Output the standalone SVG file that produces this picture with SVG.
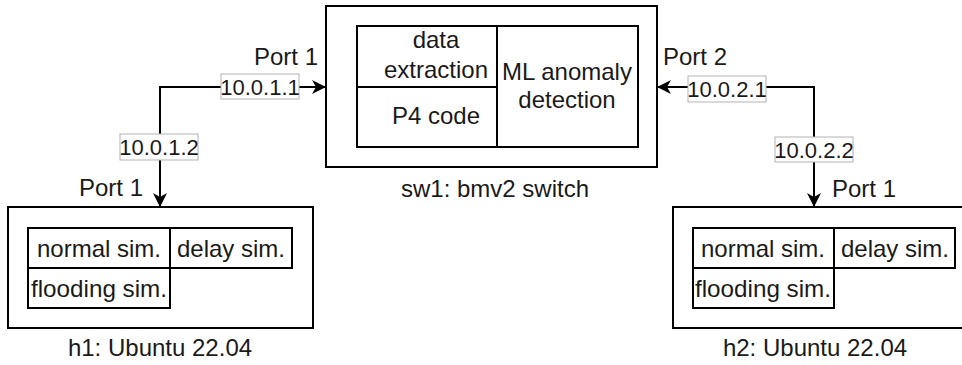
<svg xmlns="http://www.w3.org/2000/svg" width="962" height="365" viewBox="0 0 962 365">
  <style>
    .box { fill: #ffffff; stroke: #000000; stroke-width: 2; }
    .cell { fill: none; stroke: #000000; stroke-width: 2; }
    .t { font-family: "Liberation Sans", Arial, sans-serif; font-size: 24px; fill: #1a1a1a; text-anchor: middle; }
    .tl { font-family: "Liberation Sans", Arial, sans-serif; font-size: 22px; fill: #1a1a1a; text-anchor: middle; }
    .lbl { fill: #ffffff; stroke: #b3b3b3; stroke-width: 1; }
    .wire { fill: none; stroke: #000000; stroke-width: 2; }
  </style>
  <defs>
    <marker id="arrow" viewBox="0 0 14 14" markerWidth="14" markerHeight="14" refX="13" refY="7" orient="auto-start-reverse" markerUnits="userSpaceOnUse">
      <path d="M0,0 L14,7 L0,14 L4,7 z" fill="#000000"/>
    </marker>
  </defs>

  <rect width="962" height="365" fill="#ffffff"/>

  <!-- switch -->
  <g id="sw1">
    <rect class="box" x="326" y="6" width="331" height="161"/>
    <rect class="cell" x="357" y="26" width="281" height="121"/>
    <line class="cell" x1="497" y1="26" x2="497" y2="147"/>
    <line class="cell" x1="357" y1="87" x2="497" y2="87"/>
    <text class="t" x="436" y="48">data</text>
    <text class="t" x="436" y="78">extraction</text>
    <text class="t" x="436" y="124">P4 code</text>
    <text class="t" x="567" y="80">ML anomaly</text>
    <text class="t" x="567" y="108">detection</text>
    <text class="t" x="495" y="197">sw1: bmv2 switch</text>
  </g>

  <!-- host h1 -->
  <g id="h1">
    <rect class="box" x="8" y="207" width="305" height="121"/>
    <rect class="cell" x="28" y="228" width="142" height="40"/>
    <rect class="cell" x="170" y="228" width="122" height="40"/>
    <rect class="cell" x="28" y="268" width="142" height="40"/>
    <text class="t" x="99" y="257">normal sim.</text>
    <text class="t" x="231" y="257">delay sim.</text>
    <text class="t" x="99" y="297" textLength="136" lengthAdjust="spacingAndGlyphs">flooding sim.</text>
    <text class="t" x="160" y="356">h1: Ubuntu 22.04</text>
  </g>

  <!-- host h2 -->
  <g id="h2">
    <rect class="box" x="673" y="207" width="300" height="121"/>
    <rect class="cell" x="693" y="228" width="141" height="40"/>
    <rect class="cell" x="834" y="228" width="121" height="40"/>
    <rect class="cell" x="693" y="268" width="141" height="40"/>
    <text class="t" x="763" y="257">normal sim.</text>
    <text class="t" x="895" y="257">delay sim.</text>
    <text class="t" x="763" y="297" textLength="136" lengthAdjust="spacingAndGlyphs">flooding sim.</text>
    <text class="t" x="815" y="356">h2: Ubuntu 22.04</text>
  </g>

  <!-- links -->
  <g id="links">
    <path class="wire" d="M160,206 L160,87 L325,87" marker-start="url(#arrow)" marker-end="url(#arrow)"/>
    <path class="wire" d="M814,206 L814,87 L658,87" marker-start="url(#arrow)" marker-end="url(#arrow)"/>

    <rect class="lbl" x="221" y="74" width="78" height="25"/>
    <text class="tl" x="260" y="95">10.0.1.1</text>
    <rect class="lbl" x="120" y="134" width="78" height="26"/>
    <text class="tl" x="159" y="155">10.0.1.2</text>
    <rect class="lbl" x="688" y="76" width="78" height="26"/>
    <text class="tl" x="727" y="97">10.0.2.1</text>
    <rect class="lbl" x="775" y="137" width="78" height="25"/>
    <text class="tl" x="814" y="158">10.0.2.2</text>

    <text class="t" x="318" y="65" style="text-anchor:end">Port 1</text>
    <text class="t" x="663" y="65" style="text-anchor:start">Port 2</text>
    <text class="t" x="143" y="196" style="text-anchor:end">Port 1</text>
    <text class="t" x="832" y="197" style="text-anchor:start">Port 1</text>
  </g>
</svg>
